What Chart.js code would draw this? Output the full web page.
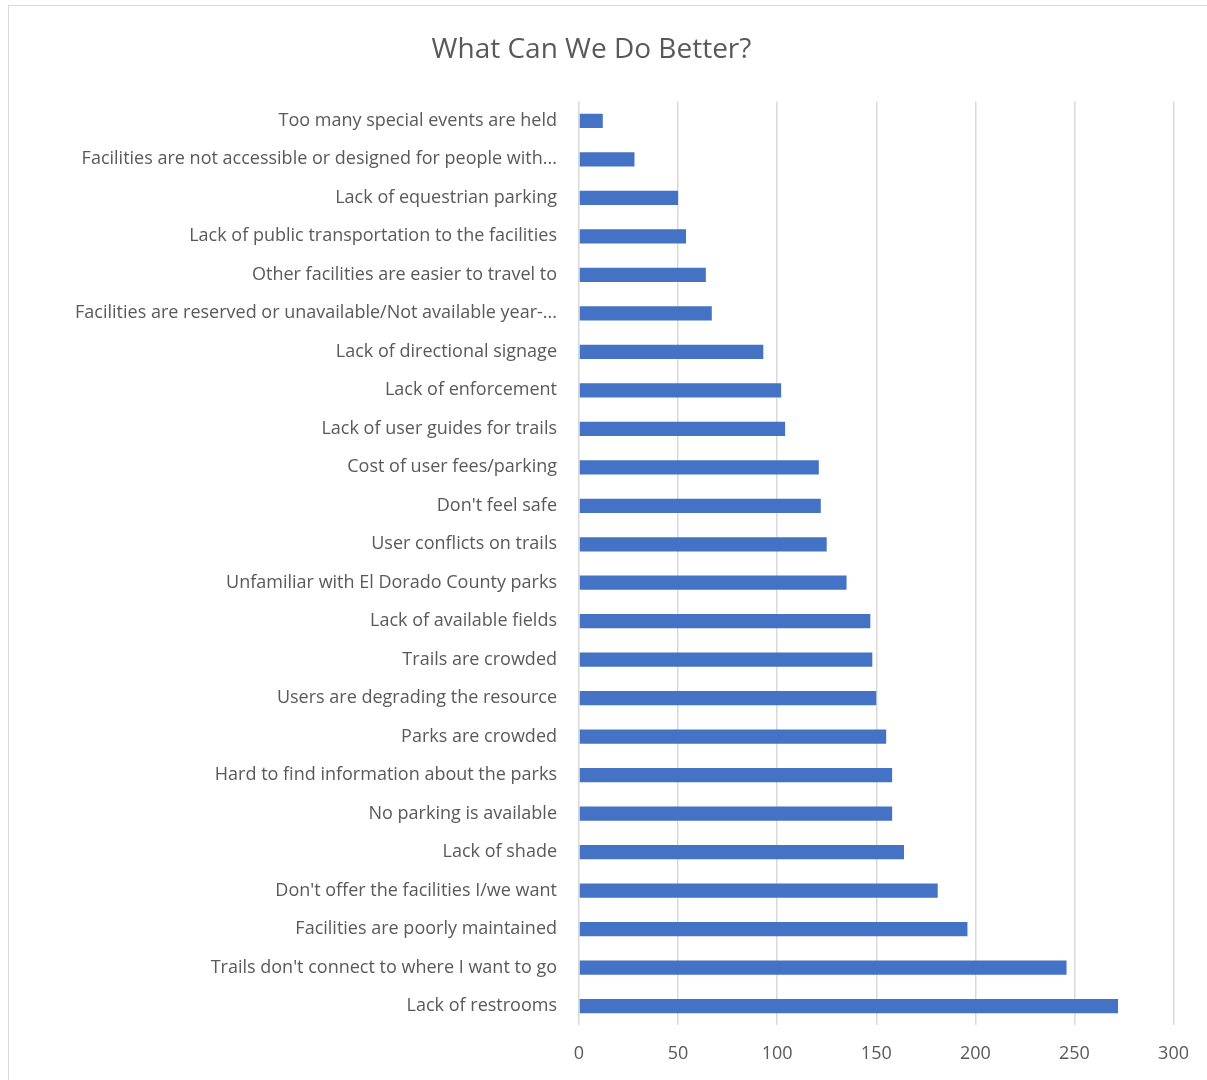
<!DOCTYPE html>
<html>
<head>
<meta charset="utf-8">
<script src="https://cdn.jsdelivr.net/npm/chart.js@4/dist/chart.umd.min.js"></script>
<style>
  html, body { margin: 0; padding: 0; background: #fff; overflow: hidden; }
  #frame { position: absolute; left: 8px; top: 5px; width: 1210px; height: 1090px; border: 1px solid #d9d9d9; box-sizing: border-box; }
  #wrap { position: absolute; left: 0; top: 0; width: 1207px; height: 1086px; }
</style>
</head>
<body>
<div id="frame"></div>
<div id="wrap"><canvas id="myChartBar"></canvas></div>
<script>
const categories = [
  'Too many special events are held',
  'Facilities are not accessible or designed for people with...',
  'Lack of equestrian parking',
  'Lack of public transportation to the facilities',
  'Other facilities are easier to travel to',
  'Facilities are reserved or unavailable/Not available year-...',
  'Lack of directional signage',
  'Lack of enforcement',
  'Lack of user guides for trails',
  'Cost of user fees/parking',
  "Don't feel safe",
  'User conflicts on trails',
  'Unfamiliar with El Dorado County parks',
  'Lack of available fields',
  'Trails are crowded',
  'Users are degrading the resource',
  'Parks are crowded',
  'Hard to find information about the parks',
  'No parking is available',
  'Lack of shade',
  "Don't offer the facilities I/we want",
  'Facilities are poorly maintained',
  "Trails don't connect to where I want to go",
  'Lack of restrooms'
];

const responses = [12, 28, 50, 54, 64, 67, 93, 102, 104, 121, 122, 125, 135, 147, 148, 150, 155, 158, 158, 164, 181, 196, 246, 272];

const xTicks = [0, 50, 100, 150, 200, 250, 300];

const grey = '#595959';
const font = '"Open Sans", "Noto Sans", sans-serif';

const config = {
  type: 'bar',
  data: {
    labels: categories,
    datasets: [{
      label: 'Responses',
      data: responses,
      backgroundColor: '#4472c4',
      barPercentage: 0.37,
      categoryPercentage: 1
    }]
  },
  options: {
    indexAxis: 'y',
    responsive: true,
    maintainAspectRatio: false,
    animation: false,
    layout: { padding: { left: 9, right: 33, top: 0, bottom: 3 } },
    plugins: {
      legend: { display: false },
      tooltip: { enabled: false },
      title: {
        display: true,
        text: 'What Can We Do Better?',
        color: grey,
        font: { family: font, size: 28, weight: 'normal' },
        padding: { top: 33, bottom: 35 }
      }
    },
    scales: {
      x: {
        min: xTicks[0],
        max: xTicks[xTicks.length - 1],
        afterBuildTicks: s => { s.ticks = xTicks.map(v => ({ value: v })); },
        grid: { color: '#d9d9d9', lineWidth: 1.5, drawTicks: false },
        border: { display: false },
        ticks: { color: grey, padding: 18, font: { family: font, size: 18 } }
      },
      y: {
        grid: { display: false },
        border: { display: false },
        afterFit: s => { s.width = 570; },
        ticks: { color: grey, padding: 14, autoSkip: false, font: { family: font, size: 18 } }
      }
    }
  }
};

const canvasElBar = document.getElementById('myChartBar');
const barChart = new Chart(canvasElBar, config);
</script>
</body>
</html>
